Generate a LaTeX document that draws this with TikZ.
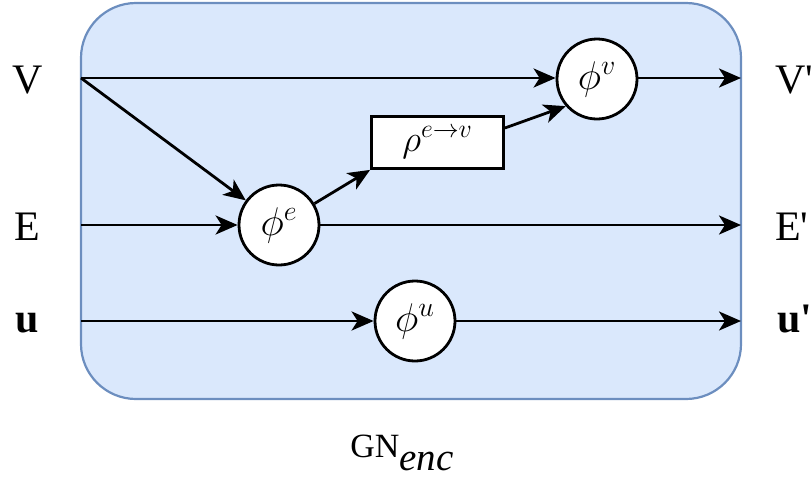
\RequirePackage{fix-cm}
\documentclass[tikz,border=0pt]{standalone}
\usepackage{graphicx}
\usepackage{fontspec}
\setmainfont{Liberation Serif}
\usetikzlibrary{arrows.meta}
\definecolor{boxfill}{HTML}{DAE8FC}
\definecolor{boxline}{HTML}{6C8EBF}
\tikzset{
  conn/.style={line width=2.8pt, -{Stealth[length=22pt,width=19pt,inset=6pt]}},
  fn/.style={circle, draw, line width=2.8pt, fill=white, minimum size=80pt, inner sep=0pt, font=\fontsize{25}{30}\selectfont},
  agg/.style={rectangle, draw, line width=2.8pt, fill=white, minimum width=132pt, minimum height=52pt, inner sep=0pt, font=\fontsize{25}{30}\selectfont},
  lbl/.style={anchor=base west, inner sep=0pt, font=\fontsize{42}{48}\selectfont},
}
\begin{document}
\begin{tikzpicture}[x=1pt,y=-1pt]
\useasboundingbox (0,0) rectangle (812,480);
\node[draw=boxline, fill=boxfill, line width=2.2pt, rounded corners=55pt, minimum width=660pt, minimum height=396pt, inner sep=0pt] (box) at (411,201) {};
% labels
\node[lbl] (lV) at (12,93) {V};
\node[lbl] (lE) at (14,240) {E};
\node[lbl] (lu) at (15,332) {\textbf{u}};
\node[lbl] (lVp) at (775,93) {V\textquotesingle};
\node[lbl] (lEp) at (775,240) {E\textquotesingle};
\node[lbl] (lup) at (777,332) {\textbf{u\textquotesingle}};
\node[anchor=base, inner sep=0pt] (gn) at (402,457) {\fontsize{34}{38}\selectfont GN\raisebox{-13pt}{\fontsize{39}{44}\selectfont\itshape enc}};
% coordinates on the box edge
\coordinate (inV) at (81,78);
\coordinate (inE) at (81,225);
\coordinate (inU) at (81,321);
\coordinate (outV) at (741,78);
\coordinate (outE) at (741,225);
\coordinate (outU) at (741,321);
% function nodes
\node[fn] (phiv) at (597,79) {\scalebox{1.6}{$\phi^v$}};
\node[fn] (phie) at (279,225) {\scalebox{1.6}{$\phi^e$}};
\node[fn] (phiu) at (415,321) {\scalebox{1.6}{$\phi^u$}};
\node[agg] (rho) at (437.5,142.5) {\scalebox{1.48}{$\rho^{e\rightarrow v}$}};
% connectors
\draw[conn] (inV) -- (phiv.west |- inV);
\draw[conn] (inV) -- (phie);
\draw[conn] (inE) -- (phie);
\draw[conn] (inU) -- (phiu);
\draw[conn] (phie) -- (rho.south west);
\draw[conn] ([yshift=14.5pt]rho.east) -- (phiv.221);
\draw[conn] (phiv.east |- outV) -- (outV);
\draw[conn] (phie) -- (outE);
\draw[conn] (phiu) -- (outU);
\end{tikzpicture}
\end{document}
